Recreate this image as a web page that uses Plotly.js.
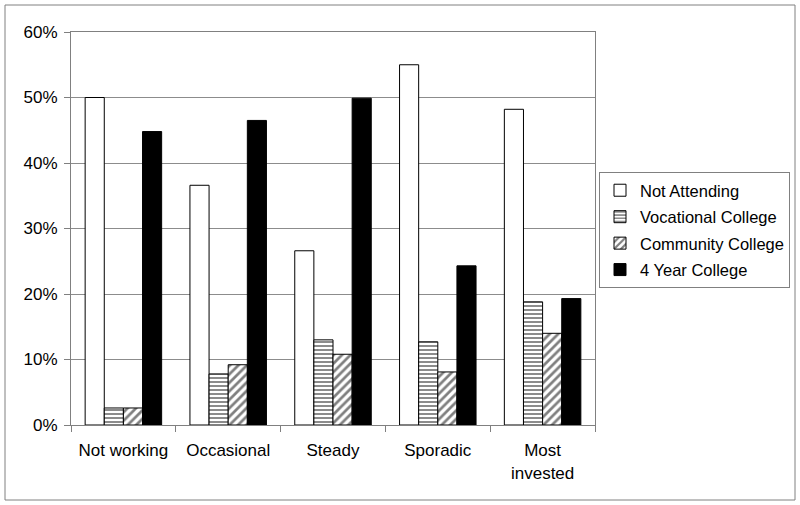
<!DOCTYPE html>
<html>
<head>
<meta charset="utf-8">
<script src="https://cdn.plot.ly/plotly-3.0.1.min.js"></script>
<style>html,body{margin:0;padding:0;background:#fff;}#chart{width:800px;height:505px;}</style>
</head>
<body>
<div id="chart"></div>
<script>
const categories = ["Not working", "Occasional", "Steady", "Sporadic", "Most<br>invested"];
const seriesNames = ["Not Attending", "Vocational College", "Community College", "4 Year College"];
const notAttending = [50.0, 36.6, 26.6, 55.0, 48.2];
const vocational = [2.6, 7.8, 13.0, 12.7, 18.8];
const community = [2.6, 9.2, 10.8, 8.1, 14.0];
const fourYear = [44.8, 46.5, 49.9, 24.3, 19.3];
const tickVals = [0, 10, 20, 30, 40, 50, 60];
const tickText = ["0%", "10%", "20%", "30%", "40%", "50%", "60%"];

const values = [notAttending, vocational, community, fourYear];
const styles = [
  {color: "#ffffff", pattern: {shape: ""}},
  {color: "#ffffff", pattern: {shape: "-", fgcolor: "#000", bgcolor: "#fff", size: 4, solidity: 0.45, fillmode: "overlay"}},
  {color: "#ffffff", pattern: {shape: "/", fgcolor: "#000", bgcolor: "#fff", size: 6, solidity: 0.45, fillmode: "overlay"}},
  {color: "#000000", pattern: {shape: ""}}
];
const traces = values.map((v, i) => ({
  type: "bar",
  name: seriesNames[i],
  legendgroup: "g" + i,
  x: categories,
  y: v,
  marker: {color: styles[i].color, pattern: styles[i].pattern, line: {color: "#000", width: 1}}
}));

const plotL = 71, plotR = 595, plotT = 32, plotB = 425, W = 800, H = 505;
const pw = plotR - plotL, ph = plotB - plotT;
const layout = {
  width: W, height: H,
  margin: {l: plotL, r: W - plotR, t: plotT, b: H - plotB, pad: 0, autoexpand: false},
  paper_bgcolor: "#fff", plot_bgcolor: "#fff",
  font: {family: "Liberation Sans, Arial, sans-serif", size: 17, color: "#000"},
  barmode: "group", bargap: 0.27, bargroupgap: 0,
  showlegend: true,
  legend: {
    xref: "container", yref: "container",
    x: 599 / W, y: 1 - 172 / H, xanchor: "left", yanchor: "top",
    bordercolor: "#808080", borderwidth: 1, bgcolor: "#fff",
    font: {size: 16.5}, itemwidth: 30, tracegroupgap: 2
  },
  xaxis: {
    type: "category", showline: true, linecolor: "#808080", linewidth: 1, mirror: true,
    ticks: "outside", tickson: "boundaries", ticklen: 6, tickcolor: "#808080",
    showgrid: false, tickfont: {size: 17}, automargin: false, ticklabelstandoff: 10
  },
  yaxis: {
    range: [0, 60], tickvals: tickVals, ticktext: tickText,
    showline: true, linecolor: "#808080", linewidth: 1, mirror: true,
    ticks: "outside", ticklen: 6, tickcolor: "#808080",
    showgrid: true, gridcolor: "#8c8c8c", gridwidth: 1, zeroline: false,
    tickfont: {size: 17}, automargin: false, ticklabelstandoff: 3
  },
  shapes: [{
    type: "rect", xref: "paper", yref: "paper",
    x0: (5 - plotL) / pw, x1: (795 - plotL) / pw,
    y0: (plotB - 500) / ph, y1: (plotB - 5) / ph,
    line: {color: "#808080", width: 1}, fillcolor: "rgba(0,0,0,0)", layer: "below"
  }]
};
Plotly.newPlot("chart", traces, layout, {displayModeBar: false, staticPlot: true});
</script>
</body>
</html>
